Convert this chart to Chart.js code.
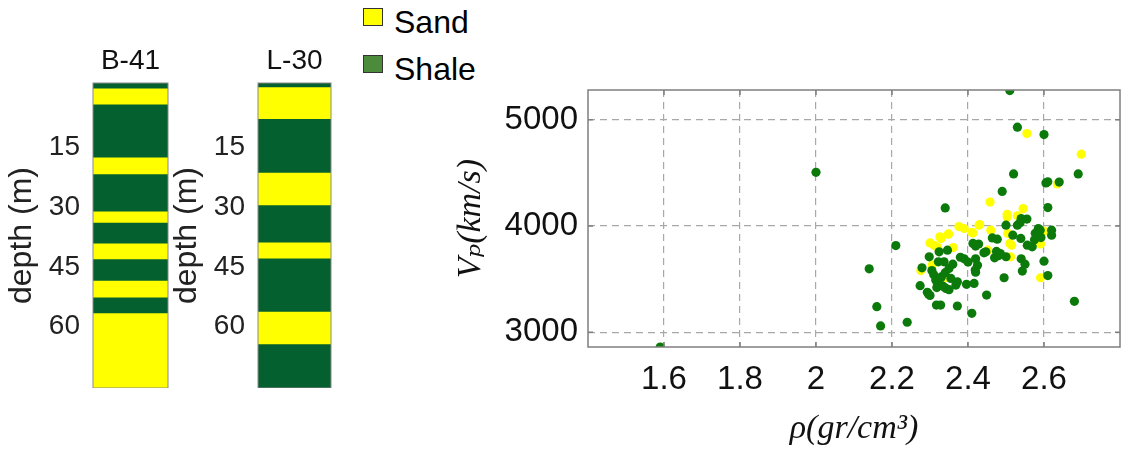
<!DOCTYPE html>
<html lang="en">
<head>
<meta charset="UTF-8">
<title>Vp vs density, wells B-41 and L-30</title>
<style>
    body { margin: 0; background: #fff; width: 1128px; height: 449px; position: relative; overflow: hidden; font-family: "Liberation Sans", Arial, sans-serif; }
    canvas { position: absolute; }
    #legend { position: absolute; left: 363px; top: 0; }
    .key { position: absolute; left: 0; width: 18px; height: 16px; border: 1px solid #333; }
    .key-label { position: absolute; left: 31px; font-size: 32px; line-height: 32px; white-space: nowrap; color: #000; }
</style>
</head>
<body>
<div id="legend">
    <span class="key" style="top:8px;background:#ffff00"></span><span class="key-label" style="top:6px">Sand</span>
    <span class="key" style="top:55px;background:#4b8b3b"></span><span class="key-label" style="top:53px">Shale</span>
</div>
<canvas id="wellB" width="180" height="388" style="left:0;top:0"></canvas>
<canvas id="wellL" width="178" height="388" style="left:165px;top:0"></canvas>
<canvas id="crossplot" width="698" height="369" style="left:430px;top:80px"></canvas>

<script src="https://cdn.jsdelivr.net/npm/chart.js"></script>
<script>
// depth logs (m), layer tops from top to bottom
const depthTicks = [15, 30, 45, 60];
const depthTop = -1.3;
const depthBase = 75.5;
const b41Tops = [-1.3, 0, 4, 17.4, 21.6, 31, 33.8, 39, 43, 48.4, 52.6, 56.6];
const b41Lith = ['Shale', 'Sand', 'Shale', 'Sand', 'Shale', 'Sand', 'Shale', 'Sand', 'Shale', 'Sand', 'Shale', 'Sand'];
const l30Tops = [-1.3, -0.3, 7.7, 21.2, 29.4, 38.8, 42.8, 56.2, 64.4];
const l30Lith = ['Shale', 'Sand', 'Shale', 'Sand', 'Shale', 'Sand', 'Shale', 'Sand', 'Shale'];

// crossplot: density (gr/cm3) and P-wave velocity
const rhoTicks = [1.6, 1.8, 2, 2.2, 2.4, 2.6];
const vpTicks = [3000, 4000, 5000];
const shaleRho = [
    1.59, 2.00, 2.51, 2.53, 2.60, 2.52, 2.69, 2.605, 2.61, 2.64,
    2.49, 2.34, 2.61, 2.54, 2.555, 2.21, 2.14, 2.16, 2.17, 2.24,
    2.68, 2.61, 2.60, 2.62, 2.62, 2.50, 2.53, 2.537, 2.464, 2.477,
    2.518, 2.539, 2.577, 2.585, 2.59, 2.582, 2.575, 2.592, 2.556, 2.569,
    2.475, 2.48, 2.47, 2.485, 2.50, 2.447, 2.54, 2.55, 2.543, 2.495,
    2.449, 2.41, 2.372, 2.317, 2.328, 2.274, 2.279, 2.298, 2.296, 2.30,
    2.293, 2.31, 2.315, 2.32, 2.326, 2.318, 2.346, 2.324, 2.322, 2.337,
    2.35, 2.342, 2.35, 2.355, 2.368, 2.372, 2.38, 2.39, 2.40, 2.42,
    2.425, 2.413, 2.419, 2.42, 2.396, 2.416, 2.442, 2.428, 2.42, 2.33,
    2.34, 2.305, 2.335, 2.36
];
const shaleVp = [
    2860, 4505, 5275, 4930, 4860, 4490, 4490, 4405, 4415, 4413,
    4325, 4170, 4173, 4070, 4065, 3815, 3596, 3240, 3058, 3093,
    3290, 3533, 3668, 3960, 3913, 4007, 4007, 4030, 3887, 3875,
    3913, 3882, 3930, 3975, 3960, 3900, 3870, 3890, 3819, 3803,
    3760, 3720, 3700, 3740, 3710, 3756, 3690, 3640, 3575, 3512,
    3349, 3177, 3246, 3255, 3255, 3437, 3606, 3709, 3360, 3345,
    3375, 3540, 3490, 3460, 3500, 3420, 3772, 3756, 3662, 3662,
    3600, 3412, 3400, 3506, 3443, 3474, 3705, 3690, 3660, 3690,
    3630, 3835, 3584, 3565, 3450, 3459, 3747, 3830, 3810, 3520,
    3560, 3580, 3430, 3640
];
const sandRho = [
    2.555, 2.698, 2.635, 2.458, 2.545, 2.503, 2.503, 2.53, 2.431, 2.413,
    2.46, 2.505, 2.51, 2.515, 2.512, 2.591, 2.591, 2.601, 2.452, 2.276,
    2.311, 2.326, 2.349, 2.376, 2.39, 2.348, 2.329, 2.361, 2.41, 2.429,
    2.342, 2.306, 2.30, 2.32
];
const sandVp = [
    4870, 4676, 4395, 4225, 4163, 4110, 4084, 4095, 4013, 3934,
    3960, 3929, 3835, 3819, 3709, 3830, 3512, 3950, 3772, 3580,
    3817, 3897, 3925, 3994, 3976, 3922, 3882, 3797, 3938, 4007,
    3515, 3631, 3840, 3800
];

const SANS = '"Liberation Sans", Arial, sans-serif';
const SERIF = '"Liberation Serif", "DejaVu Serif", serif';
const logColors = { Sand: '#ffff00', Shale: '#05602f' };

// fixed axis size, and no extra room reserved for overhanging labels
function fixSize(prop, size) {
    return s => {
        s[prop] = size;
        s.paddingTop = s.paddingBottom = s.paddingLeft = s.paddingRight = 0;
    };
}

// outline round the plot area, with short inward tick marks
const frame = {
    id: 'frame',
    afterDatasetsDraw(chart, args, opts) {
        const { ctx, chartArea: a } = chart;
        ctx.save();
        ctx.strokeStyle = opts.color;
        ctx.lineWidth = opts.width;
        ctx.setLineDash([]);
        ctx.strokeRect(a.left, a.top, a.right - a.left, a.bottom - a.top);
        if (opts.tick) {
            ctx.beginPath();
            chart.scales.x.ticks.forEach(t => {
                const px = chart.scales.x.getPixelForValue(t.value);
                ctx.moveTo(px, a.bottom); ctx.lineTo(px, a.bottom - opts.tick);
                ctx.moveTo(px, a.top); ctx.lineTo(px, a.top + opts.tick);
            });
            chart.scales.y.ticks.forEach(t => {
                const py = chart.scales.y.getPixelForValue(t.value);
                ctx.moveTo(a.left, py); ctx.lineTo(a.left + opts.tick, py);
                ctx.moveTo(a.right, py); ctx.lineTo(a.right - opts.tick, py);
            });
            ctx.stroke();
        }
        ctx.restore();
    }
};

function drawWell(id, name, tops, lith) {
    const datasets = tops.map((top, i) => ({
        label: lith[i],
        data: [[top, i + 1 < tops.length ? tops[i + 1] : depthBase]],
        backgroundColor: logColors[lith[i]],
        borderWidth: 0,
        grouped: false,
        barPercentage: 1,
        categoryPercentage: 1
    }));
    new Chart(document.getElementById(id), {
        type: 'bar',
        data: { labels: [name], datasets },
        plugins: [frame],
        options: {
            responsive: false,
            animation: false,
            layout: { padding: { right: 12 }, autoPadding: false },
            plugins: {
                legend: { display: false },
                tooltip: { enabled: false },
                frame: { color: '#8a8a8a', width: 1 }
            },
            scales: {
                // well name sits in the title of a bare axis above the column
                x: {
                    position: 'top',
                    afterFit: fixSize('height', 83),
                    grid: { display: false, drawTicks: false },
                    border: { display: false },
                    ticks: { display: false },
                    title: { display: true, text: name, color: '#111', font: { family: SANS, size: 28 }, padding: { top: 44, bottom: 0 } }
                },
                y: {
                    reverse: true,
                    min: depthTop,
                    max: depthBase,
                    afterBuildTicks: s => { s.ticks = depthTicks.map(v => ({ value: v })); },
                    afterFit: fixSize('width', 93),
                    grid: { display: false, drawTicks: false },
                    border: { display: false },
                    ticks: { padding: 13, color: '#222', font: { family: SANS, size: 28 } },
                    title: { display: true, text: 'depth (m)', color: '#222', font: { family: SANS, size: 32 }, padding: { top: 3, bottom: 0 } }
                }
            }
        }
    });
}

drawWell('wellB', 'B-41', b41Tops, b41Lith);
drawWell('wellL', 'L-30', l30Tops, l30Lith);

new Chart(document.getElementById('crossplot'), {
    type: 'scatter',
    data: {
        datasets: [
            { label: 'Shale', data: shaleRho.map((x, i) => ({ x, y: shaleVp[i] })), backgroundColor: '#0b7a0b', pointRadius: 4.6, borderWidth: 0, order: 0 },
            { label: 'Sand', data: sandRho.map((x, i) => ({ x, y: sandVp[i] })), backgroundColor: '#ffff00', pointRadius: 4.6, borderWidth: 0, order: 1 }
        ]
    },
    plugins: [frame],
    options: {
        responsive: false,
        animation: false,
        layout: { padding: { top: 10, right: 8 }, autoPadding: false },
        plugins: {
            legend: { display: false },
            tooltip: { enabled: false },
            frame: { color: '#7f7f7f', width: 1.5, tick: 5 }
        },
        scales: {
            x: {
                type: 'linear',
                min: 1.4,
                max: 2.8,
                afterBuildTicks: s => { s.ticks = rhoTicks.map(v => ({ value: v })); },
                afterFit: fixSize('height', 102),
                grid: { color: '#a8a8a8', lineWidth: 1.2, drawTicks: false },
                border: { display: false, dash: [7, 5] },
                ticks: { padding: 13, color: '#111', font: { family: SANS, size: 33 }, callback: v => String(v) },
                title: { display: true, text: 'ρ(gr/cm³)', color: '#111', font: { family: SERIF, size: 34, style: 'italic' }, padding: { top: 3, bottom: 0 } }
            },
            y: {
                min: 2860,
                max: 5280,
                afterBuildTicks: s => { s.ticks = vpTicks.map(v => ({ value: v })); },
                afterFit: fixSize('width', 158),
                grid: { color: '#a8a8a8', lineWidth: 1.2, drawTicks: false },
                border: { display: false, dash: [7, 5] },
                ticks: { padding: 10, color: '#111', font: { family: SANS, size: 33 }, callback: v => String(v) },
                title: { display: true, text: 'Vₚ(km/s)', color: '#111', font: { family: SERIF, size: 34, style: 'italic' }, padding: { top: 21, bottom: 0 } }
            }
        }
    }
});
</script>
</body>
</html>
